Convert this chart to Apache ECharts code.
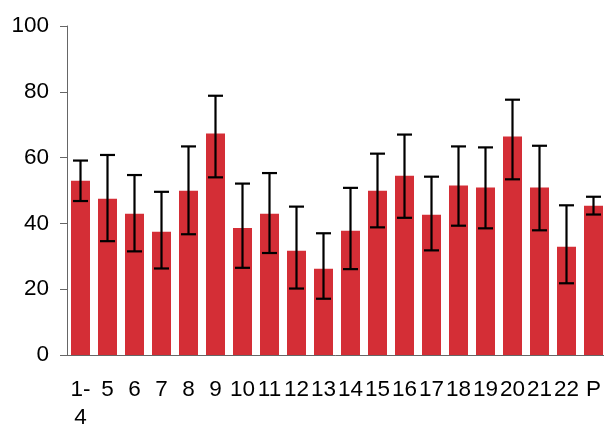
<!DOCTYPE html>
<html>
<head>
<meta charset="utf-8">
<script src="https://cdn.jsdelivr.net/npm/echarts@6/dist/echarts.min.js"></script>
<style>
html,body{margin:0;padding:0;background:#fff;}
#chart{width:604px;height:426px;}
</style>
</head>
<body>
<div id="chart"></div>
<script>
const categories = ['1-4','5','6','7','8','9','10','11','12','13','14','15','16','17','18','19','20','21','22','P'];
const values   = [53.0, 47.5, 42.9, 37.5, 49.9, 67.3, 38.6, 42.9, 31.7, 26.2, 37.8, 49.9, 54.5, 42.6, 51.5, 50.9, 66.4, 50.9, 32.9, 45.4];
const errUpper = [59.1, 60.8, 54.7, 49.6, 63.4, 78.8, 52.1, 55.3, 45.1, 37.0, 50.8, 61.2, 67.0, 54.2, 63.4, 63.1, 77.6, 63.6, 45.5, 48.1];
const errLower = [46.8, 34.6, 31.5, 26.3, 36.7, 54.0, 26.5, 31.0, 20.2, 17.1, 26.1, 38.8, 41.7, 31.8, 39.3, 38.5, 53.4, 37.9, 21.8, 42.7];
const yTicks = [0, 20, 40, 60, 80, 100];

const chart = echarts.init(document.getElementById('chart'), null, {renderer:'canvas'});
const font = 'Liberation Sans, Arial, sans-serif';
const errData = categories.map((c, i) => [i, errLower[i], errUpper[i]]);

chart.setOption({
  animation: false,
  backgroundColor: '#fff',
  grid: { left: 67, top: 26, bottom: 71, width: 540, containLabel: false, outerBoundsMode: 'none' },
  xAxis: {
    type: 'category',
    data: categories,
    axisLine: { show: true, lineStyle: { color: '#666', width: 1 } },
    axisTick: { show: false },
    axisLabel: {
      interval: 0,
      hideOverlap: false,
      margin: 21,
      color: '#000',
      fontFamily: font,
      fontSize: 22.5,
      lineHeight: 28,
      formatter: v => v.replace('-', '-\n')
    },
    splitLine: { show: false }
  },
  yAxis: {
    type: 'value',
    min: yTicks[0],
    max: yTicks[yTicks.length - 1],
    interval: yTicks[1] - yTicks[0],
    axisLine: { show: true, lineStyle: { color: '#666', width: 1 } },
    axisTick: { show: true, inside: false, length: 7, lineStyle: { color: '#666' } },
    axisLabel: { margin: 18, color: '#000', fontFamily: font, fontSize: 22.5 },
    splitLine: { show: false }
  },
  series: [
    {
      type: 'bar',
      data: values,
      barWidth: 19,
      itemStyle: { color: '#d42e36' }
    },
    {
      type: 'custom',
      data: errData,
      z: 10,
      renderItem: function (params, api) {
        const x = api.value(0);
        const lo = api.coord([x, api.value(1)]);
        const hi = api.coord([x, api.value(2)]);
        const hw = 7.5;
        const style = { stroke: '#000', lineWidth: 2.2, fill: null };
        return {
          type: 'group',
          children: [
            { type: 'line', shape: { x1: lo[0], y1: lo[1], x2: hi[0], y2: hi[1] }, style: style },
            { type: 'line', shape: { x1: hi[0] - hw, y1: hi[1], x2: hi[0] + hw, y2: hi[1] }, style: style },
            { type: 'line', shape: { x1: lo[0] - hw, y1: lo[1], x2: lo[0] + hw, y2: lo[1] }, style: style }
          ]
        };
      }
    }
  ]
});
</script>
</body>
</html>
